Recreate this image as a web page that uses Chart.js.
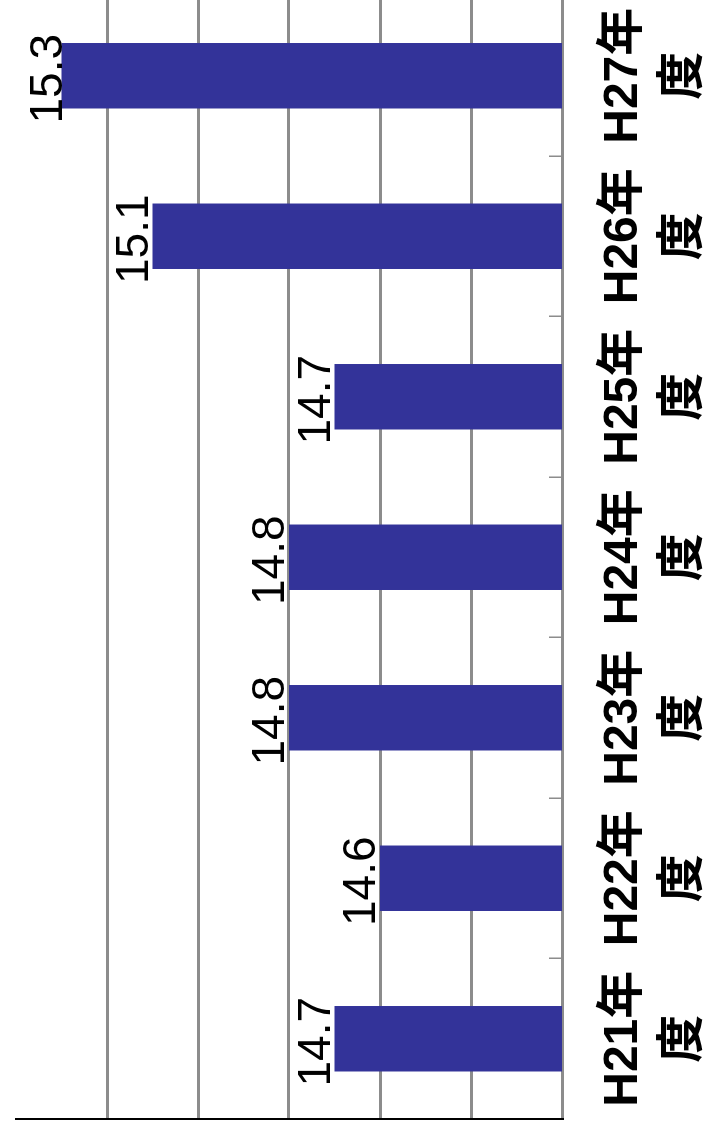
<!DOCTYPE html>
<html>
<head>
<meta charset="utf-8">
<script src="https://cdn.jsdelivr.net/npm/chart.js@4"></script>
<style>
  html, body { margin: 0; padding: 0; background: #fff; }
  #page { position: relative; width: 708px; height: 1133px; overflow: hidden; background: #fff; }
  /* chart is laid out landscape, then turned a quarter turn counter-clockwise */
  #turn {
    position: absolute; left: 0; top: 0;
    width: 1160px; height: 708px;
    transform-origin: 0 0;
    transform: translate(0, 1133px) rotate(-90deg);
  }
</style>
</head>
<body>
<div id="page">
  <div id="turn"><canvas id="yearChart" width="1160" height="708"></canvas></div>
</div>
<script>
// Fiscal years and values
const categoryLabels = [
  ["H21年", "度"], ["H22年", "度"], ["H23年", "度"], ["H24年", "度"],
  ["H25年", "度"], ["H26年", "度"], ["H27年", "度"]
];
const values = [14.7, 14.6, 14.8, 14.8, 14.7, 15.1, 15.3];

// Value axis range
const axisMin = 14.2;
const axisMax = 15.4;
const axisStep = 0.2;

const GRID_GREY = "#8c8c8c";
const BAR_BLUE = "#333399";

// Numbers drawn just above each bar
const valueLabels = {
  id: "valueLabels",
  afterDatasetsDraw(chart) {
    const ctx = chart.ctx;
    const area = chart.chartArea;
    const meta = chart.getDatasetMeta(0);
    ctx.save();
    ctx.font = "46px 'Liberation Sans', Arial, sans-serif";
    ctx.fillStyle = "#000";
    ctx.textAlign = "center";
    ctx.textBaseline = "alphabetic";
    meta.data.forEach((bar, i) => {
      // keep labels inside the plot
      const y = Math.max(bar.y - 5, area.top + 46);
      ctx.fillText(values[i].toFixed(1), bar.x - 3, y);
    });
    ctx.restore();
  }
};

const ctx = document.getElementById("yearChart").getContext("2d");
const yearChart = new Chart(ctx, {
  type: "bar",
  data: {
    labels: categoryLabels,
    datasets: [
      {
        data: values,
        backgroundColor: BAR_BLUE,
        borderWidth: 0,
        categoryPercentage: 1,
        barPercentage: 0.408
      }
    ]
  },
  options: {
    responsive: false,
    animation: false,
    devicePixelRatio: 1,
    layout: {
      padding: { left: 14, right: 22.5, top: 16, bottom: 0 }
    },
    plugins: {
      legend: { display: false },
      tooltip: { enabled: false }
    },
    scales: {
      x: {
        grid: {
          drawOnChartArea: false,
          tickLength: -13,
          color: GRID_GREY,
          lineWidth: 1.5
        },
        border: { color: GRID_GREY, width: 3 },
        ticks: {
          color: "#000",
          padding: 45,
          maxRotation: 0,
          autoSkip: false,
          font: {
            family: "'Liberation Sans', 'Noto Sans CJK JP', sans-serif",
            size: 48,
            weight: "bold",
            lineHeight: 1.25
          }
        },
        afterFit(scale) {
          scale.height = 146;
          scale.paddingLeft = 0;
          scale.paddingRight = 0;
        }
      },
      y: {
        min: axisMin,
        max: axisMax,
        ticks: { display: false, stepSize: axisStep },
        grid: {
          drawTicks: false,
          lineWidth: 3,
          color: (c) => (c.tick && c.tick.value >= axisMax - 1e-6 ? "rgba(0,0,0,0)" : GRID_GREY)
        },
        border: { color: "#000", width: 2 },
        afterFit(scale) {
          scale.width = 0;
        }
      }
    }
  },
  plugins: [valueLabels]
});
</script>
</body>
</html>
